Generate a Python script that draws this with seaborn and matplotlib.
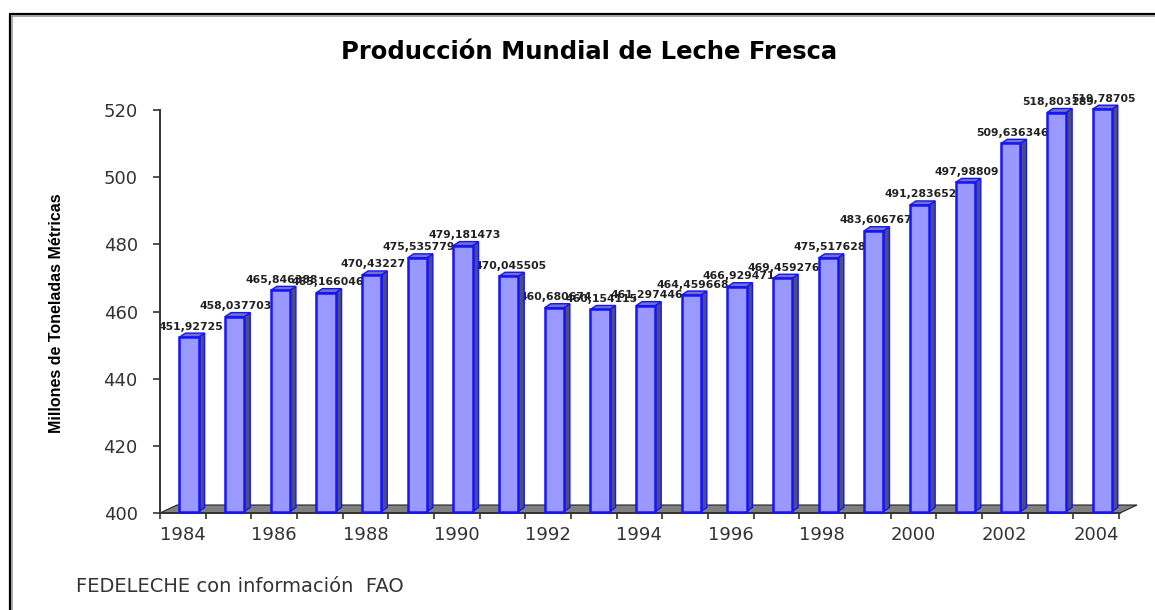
import numpy as np
import pandas as pd
import seaborn as sns
import matplotlib.pyplot as plt
from matplotlib.lines import Line2D
from matplotlib.patches import Polygon
from matplotlib.transforms import ScaledTranslation

years = [1984, 1985, 1986, 1987, 1988, 1989, 1990, 1991, 1992, 1993, 1994,
         1995, 1996, 1997, 1998, 1999, 2000, 2001, 2002, 2003, 2004]
produccion = [451.92725, 458.037703, 465.846388, 465.166046, 470.43227,
              475.535779, 479.181473, 470.045505, 460.680674, 460.154115,
              461.297446, 464.459668, 466.929471, 469.459276, 475.517628,
              483.606767, 491.283652, 497.98809, 509.636346, 518.803189,
              519.78705]
etiquetas = ['451,92725', '458,037703', '465,846388', '465,166046', '470,43227',
             '475,535779', '479,181473', '470,045505', '460,680674', '460,154115',
             '461,297446', '464,459668', '466,929471', '469,459276', '475,517628',
             '483,606767', '491,283652', '497,98809', '509,636346', '518,803189',
             '519,78705']
yticks = [400, 420, 440, 460, 480, 500, 520]

W, H = 1155, 610
df = pd.DataFrame({'anio': [str(a) for a in years], 'prod': produccion})

sns.set_theme(style='white')
fig = plt.figure(figsize=(W / 100, H / 100), dpi=100)
ax = fig.add_axes([160 / W, 1 - 513 / H, 960 / W, 403 / H])

sns.barplot(data=df, x='anio', y='prod', color='#9999ff', saturation=1,
            width=0.42, edgecolor='#1414ff', linewidth=1.8, zorder=3, ax=ax)

ax.set_xlim(-0.635, 20.39)
ax.set_ylim(400, 520)

# las barras van un poco por encima del eje, como en el falso 3D original
subir = ax.transData + ScaledTranslation(0, 1.5 / 100, fig.dpi_scale_trans)
base = ax.transData.transform((0, 400))
dx, dy = ax.transData.inverted().transform(base + np.array([6, 4])) - np.array([0, 400])

# caras laterales, tapa y etiquetas a partir de cada barra
for i, bar in enumerate(ax.patches):
    x0, x1 = bar.get_x(), bar.get_x() + bar.get_width()
    top = bar.get_height()
    bar.set_y(400)
    bar.set_height(top - 400)
    bar.set_transform(subir)
    bar.set_clip_on(False)
    ax.add_patch(Polygon([(x1, 400), (x1 + dx, 400 + dy), (x1 + dx, top + dy), (x1, top)],
                         facecolor='#4d4d80', edgecolor='#1414ff', linewidth=1.0,
                         zorder=2.9, clip_on=False, transform=subir))
    ax.add_patch(Polygon([(x0, top), (x0 + dx, top + dy), (x1 + dx, top + dy), (x1, top)],
                         facecolor='#7373c0', edgecolor='#1414ff', linewidth=1.0,
                         zorder=2.9, clip_on=False, transform=subir))
    ax.annotate(etiquetas[i], xy=((x0 + x1) / 2, top), xytext=(1.5, 12),
                textcoords='offset pixels', ha='center', va='center',
                fontsize=7.8, fontweight='bold', color='#222222',
                family='DejaVu Sans', zorder=1, annotation_clip=False)

# piso gris
fx = 17 / 45.65
fy = 8 / 403 * 120
xl, xr = ax.get_xlim()
ax.add_patch(Polygon([(xl, 400), (xl + fx, 400 + fy), (xr + fx, 400 + fy), (xr, 400)],
                     facecolor='#808080', edgecolor='#222222', linewidth=0.8,
                     zorder=0.5, clip_on=False))

for s in ['top', 'right']:
    ax.spines[s].set_visible(False)
for s in ['left', 'bottom']:
    ax.spines[s].set_color('#333333')
    ax.spines[s].set_linewidth(1.4)

ax.set_yticks(yticks)
ax.tick_params(axis='y', left=True, length=5, width=1.2, color='#333333',
               labelsize=13, labelcolor='#333333', pad=11)
# marcas entre categorias, rotulos cada dos anios
cortes = np.arange(len(years) + 1) - 0.635
ax.set_xticks(cortes)
ax.set_xticklabels([])
ax.tick_params(axis='x', which='major', bottom=True, length=4.3, width=1.2, color='#333333')
ax.set_xticks(np.arange(0, len(years), 2) - 0.135, minor=True)
ax.set_xticklabels(df['anio'][::2], minor=True, fontsize=13, color='#333333')
ax.tick_params(axis='x', which='minor', bottom=False, length=0, pad=9)
ax.set_xlabel('')
ax.set_ylabel('')

# marco del grafico, abierto a la derecha y abajo
for xs, ys, c, lw in [([10, 10], [610, 14], 'black', 1.6), ([10, 1155], [14, 14], 'black', 1.6),
                      ([12, 12], [610, 16], '#999999', 1.2), ([12, 1155], [16, 16], '#999999', 1.2)]:
    fig.add_artist(Line2D([x / W for x in xs], [1 - y / H for y in ys], color=c, linewidth=lw))

fig.text(57 / W, 1 - 313 / H, 'Millones de Toneladas Métricas', rotation=90, ha='center',
         va='center', fontsize=11.5, fontweight='bold', color='black',
         family=['Liberation Sans Narrow', 'Liberation Sans'])
fig.text(589 / W, 1 - 52 / H, 'Producción Mundial de Leche Fresca', ha='center', va='center',
         fontsize=17.5, fontweight='bold', color='black', family='DejaVu Sans')
fig.text(76 / W, 1 - 587 / H, 'FEDELECHE con información  FAO', ha='left', va='center',
         fontsize=14, color='#333333', family='DejaVu Sans')

fig.savefig('out.png', dpi=100)
